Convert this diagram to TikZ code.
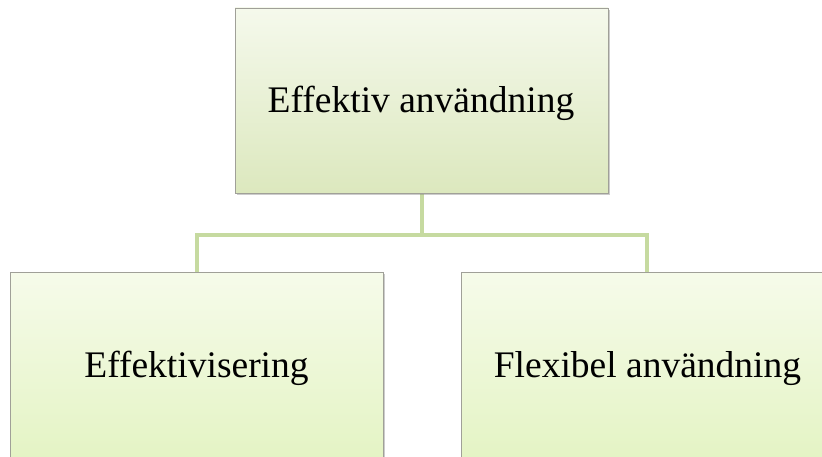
\documentclass[tikz,border=0pt]{standalone}
\usepackage{fontspec}
\setmainfont{Liberation Serif}
\usetikzlibrary{shadows}
\definecolor{topA}{HTML}{F5F9EC}
\definecolor{topB}{HTML}{DCE8BE}
\definecolor{botA}{HTML}{F6FBEA}
\definecolor{botB}{HTML}{E2F3C0}
\definecolor{linkc}{HTML}{C6DAA0}
\definecolor{edgec}{HTML}{A0A098}
\tikzset{
  topbox/.style={draw=edgec, line width=0.8pt, top color=topA, bottom color=topB,
    drop shadow={shadow xshift=2pt, shadow yshift=-2pt, opacity=0.4}},
  botbox/.style={draw=edgec, line width=0.8pt, top color=botA, bottom color=botB,
    drop shadow={shadow xshift=2pt, shadow yshift=-2pt, opacity=0.4}},
  label/.style={font=\fontsize{37.5}{44}\selectfont, text=black, anchor=base, inner sep=0pt},
  link/.style={draw=linkc, line width=4pt}
}
\begin{document}
\begin{tikzpicture}[x=1pt,y=-1pt]
\useasboundingbox (0,0) rectangle (822,457);
\clip (0,0) rectangle (822,457);
% connectors
\coordinate (j) at (422,235);
\coordinate (jl) at (197,235);
\coordinate (jr) at (647,235);
\draw[link] (422,193) -- (j);
\draw[link] (197,272) -- (jl) -- (jr) -- (647,272);
% boxes
\path[topbox] (235,8) rectangle (608,193);
\path[botbox] (10,272) rectangle (383,480);
\path[botbox] (461,272) rectangle (840,480);
\node[label] (top) at (421,113) {Effektiv användning};
\node[label] (left) at (196.5,377) {Effektivisering};
\node[label] (right) at (647.5,377) {Flexibel användning};
\end{tikzpicture}
\end{document}
